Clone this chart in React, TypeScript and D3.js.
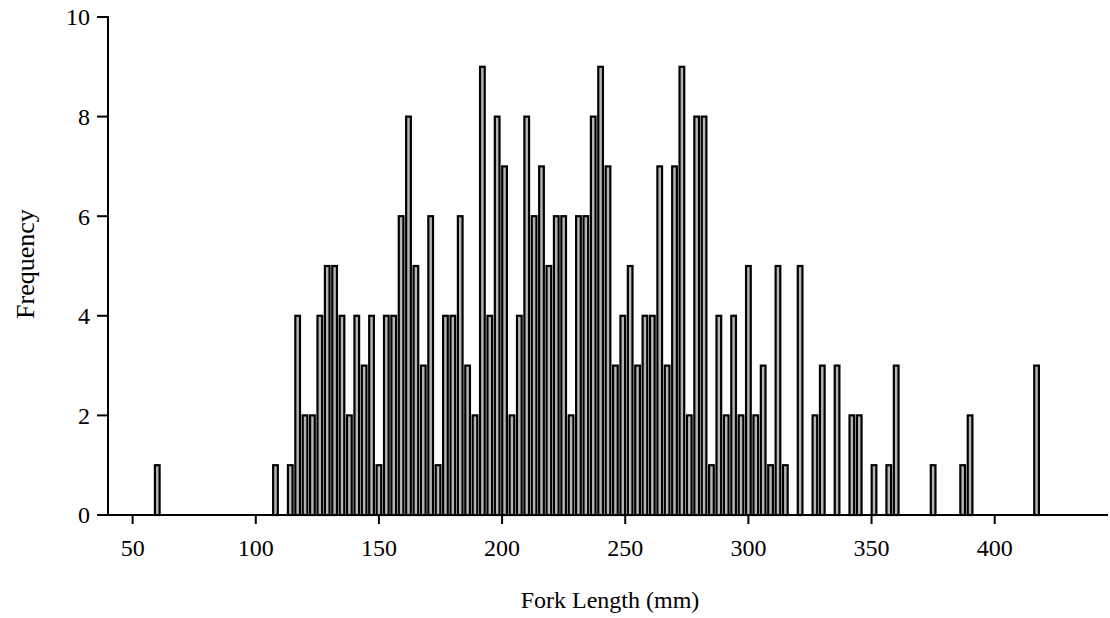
import React from 'react';
import * as d3 from 'd3';

const forkLengths = [
  60, 108, 114,
  117, 120, 123, 126, 129, 132, 135, 138, 141, 144,
  147, 150, 153, 156, 159, 162, 165, 168, 171, 174,
  177, 180, 183, 186, 189, 192, 195, 198, 201, 204,
  207, 210, 213, 216, 219, 222, 225, 228, 231, 234,
  237, 240, 243, 246, 249, 252, 255, 258, 261, 264,
  267, 270, 273, 276, 279, 282, 285, 288, 291, 294,
  297, 300, 303, 306, 309, 312, 315,
  321, 327, 330, 336, 342, 345, 351, 357, 360, 375, 387, 390, 417,
];
const frequencies = [
  1, 1, 1,
  4, 2, 2, 4, 5, 5, 4, 2, 4, 3,
  4, 1, 4, 4, 6, 8, 5, 3, 6, 1,
  4, 4, 6, 3, 2, 9, 4, 8, 7, 2,
  4, 8, 6, 7, 5, 6, 6, 2, 6, 6,
  8, 9, 7, 3, 4, 5, 3, 4, 4, 7,
  3, 7, 9, 2, 8, 8, 1, 4, 2, 4,
  2, 5, 2, 3, 1, 5, 1,
  5, 2, 3, 3, 2, 2, 1, 1, 3, 1, 1, 2, 3,
];
const xTicks = [50, 100, 150, 200, 250, 300, 350, 400];
const yTicks = [0, 2, 4, 6, 8, 10];
const xTitle = 'Fork Length (mm)';
const yTitle = 'Frequency';

const FONT = '"Liberation Serif", "Times New Roman", serif';

export default function App() {
  const W = 1110;
  const H = 618;
  const x = d3.scaleLinear().domain([40, 446]).range([108, 1108]);
  const y = d3.scaleLinear().domain([0, 10]).range([515, 17]);
  const halfBar = 0.95;

  return (
    <svg
      width={W}
      height={H}
      style={{ position: 'absolute', left: 0, top: 0, background: '#fff' }}
      fontFamily={FONT}
    >
      <rect x={0} y={0} width={W} height={H} fill="#fff" />
      {forkLengths.map((c, i) => {
        const x0 = x(c - halfBar);
        const x1 = x(c + halfBar);
        const v = frequencies[i];
        return (
          <rect
            key={c}
            x={x0}
            y={y(v)}
            width={x1 - x0}
            height={y(0) - y(v)}
            fill="#b4b4b4"
            stroke="#000"
            strokeWidth={2.2}
          />
        );
      })}
      {/* y axis */}
      <line x1={x.range()[0]} x2={x.range()[0]} y1={y(10) - 1} y2={y(0)} stroke="#000" strokeWidth={2} />
      {yTicks.map((t) => (
        <g key={t}>
          <line x1={x.range()[0] - 11} x2={x.range()[0]} y1={y(t)} y2={y(t)} stroke="#000" strokeWidth={2} />
          <text
            x={x.range()[0] - 18}
            y={y(t)}
            dy="0.35em"
            textAnchor="end"
            fontSize={24}
            fill="#000"
          >
            {t}
          </text>
        </g>
      ))}
      {/* x axis */}
      <line x1={x.range()[0]} x2={x.range()[1]} y1={y(0)} y2={y(0)} stroke="#000" strokeWidth={2} />
      {xTicks.map((t) => (
        <g key={t}>
          <line x1={x(t)} x2={x(t)} y1={y(0)} y2={y(0) + 9} stroke="#000" strokeWidth={2} />
          <text x={x(t)} y={556} textAnchor="middle" fontSize={24} fill="#000">
            {t}
          </text>
        </g>
      ))}
      <text x={610} y={608} textAnchor="middle" fontSize={24} fill="#000">
        {xTitle}
      </text>
      <text
        transform={`translate(34, 264) rotate(-90)`}
        textAnchor="middle"
        fontSize={26}
        fill="#000"
      >
        {yTitle}
      </text>
    </svg>
  );
}
